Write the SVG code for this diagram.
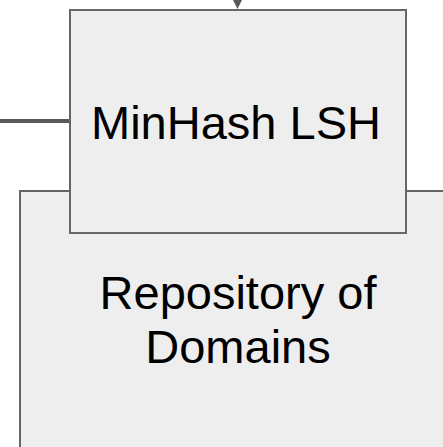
<svg xmlns="http://www.w3.org/2000/svg" width="443" height="447" viewBox="0 0 443 447">
  <style>
    .box { fill: #eeeeee; stroke: #666666; stroke-width: 2; }
    .label { font-family: "Liberation Sans", Arial, sans-serif; font-size: 47px; fill: #000000; text-anchor: middle; }
    .wire { stroke: #595959; stroke-width: 4; fill: none; }
  </style>
  <rect width="443" height="447" fill="#ffffff"/>
  <g id="repository">
    <rect class="box" x="20" y="191" width="440" height="280"/>
    <text class="label" x="238" y="309">Repository of</text>
    <text class="label" x="238" y="363">Domains</text>
  </g>
  <g id="minhash">
    <rect class="box" x="70" y="10" width="336" height="223"/>
    <text class="label" x="236" y="139">MinHash LSH</text>
  </g>
  <g id="connectors">
    <line class="wire" x1="0" y1="121" x2="69" y2="121"/>
    <line stroke="#595959" stroke-width="2" x1="237.5" y1="0" x2="237.5" y2="3"/>
    <polygon fill="#595959" points="233,0 242,0 237.5,9"/>
  </g>
</svg>
